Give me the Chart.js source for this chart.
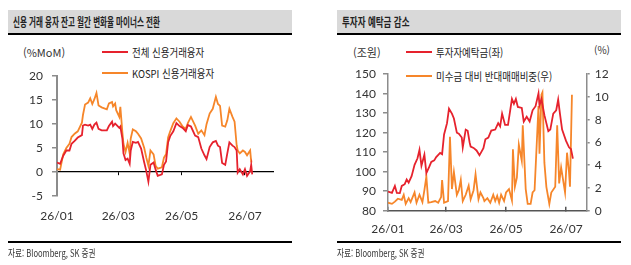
<!DOCTYPE html>
<html lang="ko">
<head>
<meta charset="utf-8">
<script src="https://cdn.jsdelivr.net/npm/chart.js@4.4.1/dist/chart.umd.min.js"></script>
<style>
  html, body { margin:0; padding:0; background:#fff; }
  #page { position:relative; width:631px; height:265px; overflow:hidden; font-family:"Noto Sans CJK KR", sans-serif; color:#222; }
  .bar { position:absolute; top:10px; height:23px; background:#d9d9d9; border-bottom:2px solid #000; }
  .bar span { position:absolute; left:5px; top:0; line-height:23px; font-size:12px; font-weight:bold; transform-origin:0 50%; white-space:nowrap; }
  .foot { position:absolute; top:241px; height:2px; background:#000; }
  .src { position:absolute; top:246px; font-size:10px; line-height:14px; transform-origin:0 50%; transform:scaleX(0.76); white-space:nowrap; color:#333; }
  .unit { position:absolute; font-size:11px; line-height:16px; white-space:nowrap; color:#333; }
  .lg { position:absolute; height:16px; display:flex; align-items:center; white-space:nowrap; font-size:11px; color:#222; }
  .lg i { display:inline-block; width:26px; height:2px; flex:none; }
  .lg span { display:inline-block; margin-left:4px; transform-origin:0 50%; transform:scaleX(0.86); }
  canvas { position:absolute; }
</style>
</head>
<body>
<div id="page">
  <div class="bar" style="left:8px;width:284px"><span style="transform:scaleX(0.63)">신용 거래 융자 잔고 월간 변화율 마이너스 전환</span></div>
  <div class="bar" style="left:337px;width:284px"><span style="transform:scaleX(0.71)">투자자 예탁금 감소</span></div>

  <div class="unit" style="left:23px;top:44px">(%MoM)</div>
  <div class="unit" style="left:353px;top:44px">(조원)</div>
  <div class="unit" style="left:594px;top:42px;font-size:10px">(%)</div>

  <div id="legendL"></div>
  <div id="legendR"></div>

  <canvas id="leftChart" width="300" height="170" style="left:0;top:60px"></canvas>
  <canvas id="rightChart" width="315" height="185" style="left:316px;top:60px"></canvas>

  <div class="foot" style="left:8px;width:284px"></div>
  <div class="foot" style="left:337px;width:284px"></div>
  <div class="src" style="left:8px">자료: Bloomberg, SK 증권</div>
  <div class="src" style="left:337px">자료: Bloomberg, SK 증권</div>
</div>

<script>
// ---- Datos
const tickDays = [0, 59, 120, 181];
const tickLabels = ['26/01', '26/03', '26/05', '26/07'];

const leftNames = ['전체 신용거래융자', 'KOSPI 신용거래융자'];
const rightNames = ['투자자예탁금(좌)', '미수금 대비 반대매매비중(우)'];

// dias desde 26/01/01
const marginDays = [0,3,6,9,12,14,17,20,24,25, 27,30,32,34,36,38,40,43,48,50,
  53,54,56,57,60,61,63,64,66,68, 70,71,73,76,78,81,84,86,88,90,
  93,95,97,101,103,105,107,109,112,115, 118,121,124,126,129,133,136,139,142,144,
  147,150,153,155,157,159,162,164,166,169, 171,173,174,176,179,181,183,186,187,188];
const totalMoM = [2.0,1.7,3.4,4.5,4.5,5.9,6.5,7.2,7.7,9.7, 9.9,9.7,9.9,9.0,9.9,10.3,9.0,8.7,8.7,9.6,
  10.5,9.6,10.1,9.9,9.2,9.5,6.9,3.9,2.5,2.8, 1.7,4.5,6.3,6.1,6.3,4.9,2.0,0.2,-2.0,1.5,
  2.0,0.5,-0.8,-0.5,1.5,2.2,6.2,7.5,8.5,10.2, 9.6,9.2,8.5,9.8,9.5,7.6,7.3,4.9,3.5,2.7,
  5.2,6.2,6.5,5.5,5.2,1.9,1.5,3.9,6.2,5.5, 5.2,4.5,-0.1,0.6,-0.5,0.6,-0.8,0.2,1.5,-0.5];
const kospiMoM = [0.6,0.5,3.7,5.0,5.9,7.3,8.0,8.5,10.3,11.9, 14.1,14.5,15.4,14.2,15.2,16.5,13.9,13.5,13.1,14.3,
  14.6,13.7,14.3,12.9,11.5,13.6,8.2,5.9,4.2,6.1, 3.9,7.0,8.9,8.5,8.0,7.0,5.0,3.0,1.3,4.5,
  3.7,1.3,0.7,1.0,3.0,3.7,7.2,8.5,10.2,11.2, 10.5,9.5,9.0,10.2,11.5,9.7,8.0,8.7,7.7,10.0,
  12.2,13.2,15.7,14.2,13.8,9.7,9.5,10.8,13.2,11.5, 10.5,5.6,4.5,3.9,4.5,4.2,3.5,4.5,2.2,2.2];

const depositDays = [0,4,7,9,12,14,17,19,21,24, 27,30,32,34,37,39,42,44,47,49,
  53,55,57,60,62,65,67,70,72,75, 76,79,81,83,84,87,90,93,97,99,
  102,105,109,112,114,116,119,122,126,128, 130,132,136,138,141,144,147,150,153,154,
  156,159,163,165,168,171,173,175,177,181, 184,186,188];
const depositTril = [89.8,89.1,92.7,89.1,89.0,92.7,93.6,96.0,94.4,97.7, 103.5,106.9,111.2,103.0,108.7,99.3,102.6,105.0,105.8,107.5,
  109.6,109.0,119.1,124.9,132.3,129.8,127.3,120.0,119.5,117.5, 112.5,121.6,121.0,115.0,112.9,112.2,110.9,108.4,112.0,116.6,
  117.5,121.1,121.6,124.9,123.2,129.8,124.0,124.0,137.3,134.8, 137.3,133.2,132.7,125.7,128.2,125.7,131.5,133.6,140.2,134.0,
  137.3,129.0,120.8,121.6,129.8,131.5,137.0,129.0,121.6,115.8, 112.5,111.6,106.7];

const ratioDays = [0,4,7,10,14,16,18,21,23,27, 29,32,35,37,39,41,44,48,51,54,
  55,57,61,63,65,67,70,72,74,76, 79,82,84,87,89,92,94,97,98,101,
  104,107,109,111,113,115,118,120,123,126, 127,129,131,133,136,137,140,142,145,147,
  149,153,154,156,157,159,161,164,166,170, 172,174,176,180,182,184,185,187];
const ratioPct = [0.7,0.6,0.8,1.05,0.95,1.4,0.6,1.1,0.75,1.6, 0.7,1.4,0.75,1.8,3.0,0.7,0.75,0.85,0.7,1.2,
  2.7,0.7,0.85,6.5,1.9,3.4,1.4,1.8,2.7,0.85, 1.4,2.2,1.0,1.8,3.2,1.0,1.6,1.1,0.85,1.1,
  0.7,1.4,0.85,1.3,0.7,1.4,0.85,1.6,1.9,0.9, 5.4,2.1,2.9,5.8,4.4,7.5,1.9,0.6,0.6,1.6,
  1.8,9.2,5.0,10.2,10.4,4.2,2.1,0.6,1.6,2.1, 7.5,2.4,3.8,1.6,5.1,3.4,2.1,10.2];

const RED = '#e6222d';
const ORANGE = '#f6862a';
const AXIS_GRAY = '#8c8c8c';
const TICK_FONT = { family: 'Lato, sans-serif', size: 12 };
const TICK_COLOR = '#333';

// ---- Utilidades
const toPoints = (xs, ys) => xs.map((x, i) => ({ x, y: ys[i] }));
const fixedTicks = values => scale => { scale.ticks = values.map(v => ({ value: v })); };
const dayLabel = v => tickLabels[tickDays.indexOf(v)];

function lineSet(label, xs, ys, color, axis){
  return { label, data: toPoints(xs, ys), borderColor: color, borderWidth: 1.8,
    pointRadius: 0, tension: 0, fill: false, yAxisID: axis || 'y' };
}

function buildLegend(el, left, tops, names, colors){
  names.forEach((n, i) => {
    const d = document.createElement('div');
    d.className = 'lg';
    d.style.left = left + 'px';
    d.style.top = (tops[i] - 8) + 'px';
    d.innerHTML = `<i style="background:${colors[i]}"></i><span>${n}</span>`;
    el.appendChild(d);
  });
}

buildLegend(document.getElementById('legendL'), 102, [52, 73], leftNames, [RED, ORANGE]);
buildLegend(document.getElementById('legendR'), 406, [52, 76], rightNames, [RED, ORANGE]);

const common = {
  responsive: false,
  animation: false,
  plugins: { legend: { display: false }, tooltip: { enabled: false } }
};

// ---- Grafico izquierdo
new Chart(document.getElementById('leftChart'), {
  type: 'line',
  data: { datasets: [
    lineSet(leftNames[0], marginDays, totalMoM, RED),
    lineSet(leftNames[1], marginDays, kospiMoM, ORANGE)
  ] },
  options: {
    ...common,
    layout: { padding: { top: 10, right: 27, left: 0, bottom: 0 } },
    scales: {
      x: { type: 'linear', min: 0, max: 208, position: { y: 0 },
        afterBuildTicks: fixedTicks(tickDays),
        ticks: { display: false },
        grid: { drawOnChartArea: false, drawTicks: true, tickLength: 3, color: '#000' },
        border: { display: true, color: '#000', width: 1.2 } },
      x2: { type: 'linear', position: 'bottom', min: 0, max: 208,
        afterBuildTicks: fixedTicks(tickDays),
        ticks: { callback: dayLabel, font: TICK_FONT, color: TICK_COLOR, padding: 5, maxRotation: 0, autoSkip: false },
        grid: { display: false }, border: { display: false },
        afterFit: s => { s.height = 34; } },
      y: { min: -5, max: 20,
        ticks: { stepSize: 5, padding: 9, font: TICK_FONT, color: TICK_COLOR },
        grid: { drawOnChartArea: false, drawTicks: true, tickLength: 5, color: AXIS_GRAY, lineWidth: 1.5 },
        border: { color: AXIS_GRAY, width: 2 },
        afterFit: s => { s.width = 57; } }
    }
  }
});

// ---- Grafico derecho
new Chart(document.getElementById('rightChart'), {
  type: 'line',
  data: { datasets: [
    lineSet(rightNames[0], depositDays, depositTril, RED, 'y'),
    lineSet(rightNames[1], ratioDays, ratioPct, ORANGE, 'y1')
  ] },
  options: {
    ...common,
    layout: { padding: { top: 9.3, right: 0, left: 0, bottom: 0 } },
    scales: {
      x: { type: 'linear', min: 0, max: 202, position: 'bottom',
        afterBuildTicks: fixedTicks(tickDays),
        ticks: { callback: dayLabel, font: TICK_FONT, color: TICK_COLOR, padding: 15, maxRotation: 0, autoSkip: false },
        grid: { drawOnChartArea: false, drawTicks: true, tickLength: -4, color: '#555', lineWidth: 1.5 },
        border: { color: '#555', width: 1.5 },
        afterFit: s => { s.height = 34.3; } },
      y: { position: 'left', min: 80, max: 150,
        ticks: { stepSize: 10, padding: 7, font: TICK_FONT, color: TICK_COLOR },
        grid: { drawOnChartArea: false, drawTicks: true, tickLength: 5, color: AXIS_GRAY, lineWidth: 1.5 },
        border: { color: AXIS_GRAY, width: 1.5 },
        afterFit: s => { s.width = 72; } },
      y1: { position: 'right', min: 0, max: 12,
        ticks: { stepSize: 2, padding: 5, font: TICK_FONT, color: TICK_COLOR },
        grid: { drawOnChartArea: false, drawTicks: true, tickLength: 3, color: AXIS_GRAY, lineWidth: 1.5 },
        border: { color: AXIS_GRAY, width: 1.5 },
        afterFit: s => { s.width = 44.3; } }
    }
  }
});
</script>
</body>
</html>
